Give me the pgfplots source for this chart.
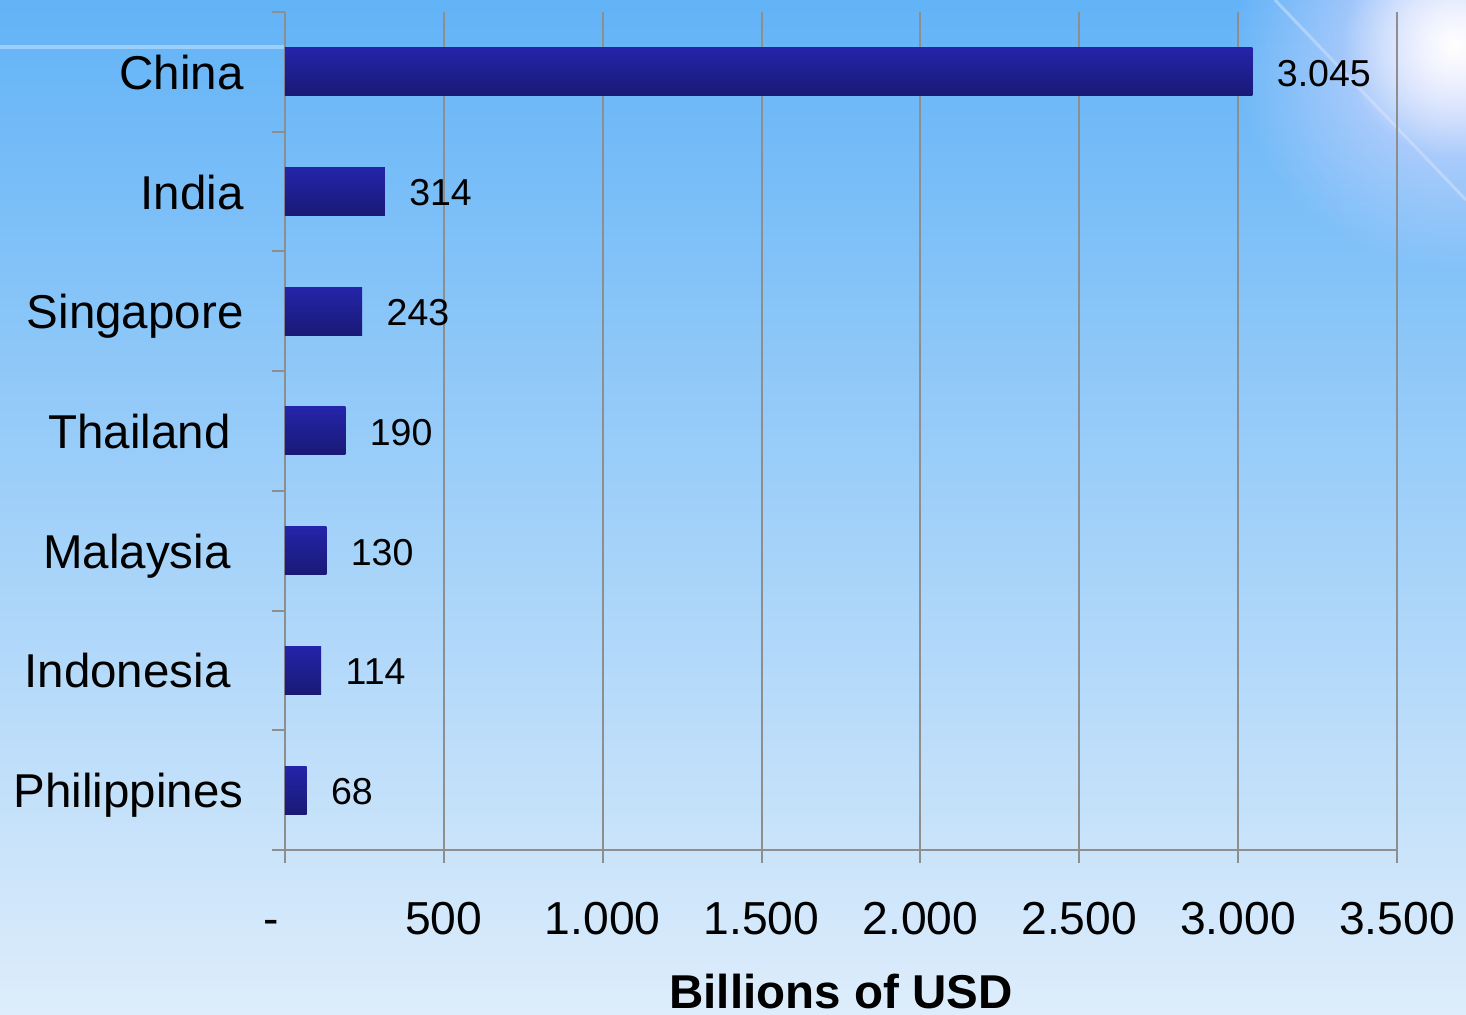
\documentclass[border=0pt]{standalone}
\usepackage{pgfplots}
\pgfplotsset{compat=1.18}
\usepackage{fontspec}
\setmainfont{Liberation Sans}
\usetikzlibrary{fadings}
\definecolor{bgtop}{HTML}{62B3F7}
\definecolor{bgmid}{HTML}{A2D0FA}
\definecolor{bgbot}{HTML}{DEEDFB}
\definecolor{bartop}{HTML}{2424AA}
\definecolor{barbot}{HTML}{191976}
\definecolor{gridgray}{HTML}{8E8E8E}
\definecolor{sunglow}{HTML}{DCDAFF}
\tikzfading[name=sunfade, inner color=transparent!0, outer color=transparent!100]
\pgfplotsset{mybar/.style={draw=none, top color=bartop, bottom color=barbot, bar shift=0pt}}
\begin{document}
\begin{tikzpicture}
\useasboundingbox (0,0) rectangle (586.4pt,406pt);
\shade[top color=bgtop, middle color=bgmid, bottom color=bgbot] (0,0) rectangle (586.4pt,406pt);
\fill[white, opacity=0.35] (0,386.4pt) rectangle (114pt,387.8pt);
\draw[white, opacity=0.35, line width=1.2pt] (510pt,406pt) -- (586.4pt,326pt);
\fill[sunglow, path fading=sunfade] (582pt,388pt) circle (90pt);
\fill[white, path fading=sunfade] (582pt,388pt) circle (45pt);
\begin{axis}[
  at={(114pt,66pt)}, anchor=south west,
  scale only axis, width=444.8pt, height=335.2pt,
  xmin=0, xmax=3500, ymin=-0.5, ymax=6.5,
  xbar, bar width=19.2pt,
  /pgf/number format/1000 sep={.},
  /pgf/number format/assume math mode=true,
  xtick={0,500,...,3500},
  xticklabels={-\hspace*{11.2pt},500,1.000,1.500,2.000,2.500,3.000,3.500},
  xmajorgrids,
  grid style={gridgray, line width=0.8pt},
  axis x line*=bottom, axis y line*=left,
  axis line style={gridgray, line width=0.8pt, -},
  tick align=outside, major tick length=5.2pt,
  tick style={gridgray, line width=0.8pt},
  ytick={-0.5,0.5,...,6.5}, yticklabels={},
  extra y ticks={0,1,2,3,4,5,6},
  extra y tick labels={Philippines,Indonesia\hspace*{5.2pt},Malaysia\hspace*{5.2pt},Thailand\hspace*{5.2pt},Singapore,India,China},
  extra y tick style={major tick length=0pt,
    yticklabel style={font=\fontsize{19}{23}\selectfont, anchor=base east, inner sep=0pt, xshift=-16.4pt, yshift=-7pt}},
  xticklabel style={font=\fontsize{18.5}{22}\selectfont, anchor=base, inner sep=0pt, yshift=-28.8pt},
  xlabel={Billions of USD},
  xlabel style={font=\bfseries\fontsize{19}{23}\selectfont, at={(axis description cs:0.5,0)}, anchor=base, inner sep=0pt, yshift=-63.6pt},
  nodes near coords,
  nodes near coords style={font=\fontsize{15}{18}\selectfont, anchor=west, inner sep=0pt, xshift=9.6pt, yshift=-0.6pt, text=black},
]
\addplot[mybar] coordinates {(68,0)};
\addplot[mybar] coordinates {(114,1)};
\addplot[mybar] coordinates {(130,2)};
\addplot[mybar] coordinates {(190,3)};
\addplot[mybar] coordinates {(243,4)};
\addplot[mybar] coordinates {(314,5)};
\addplot[mybar] coordinates {(3045,6)};
\end{axis}
\end{tikzpicture}
\end{document}
